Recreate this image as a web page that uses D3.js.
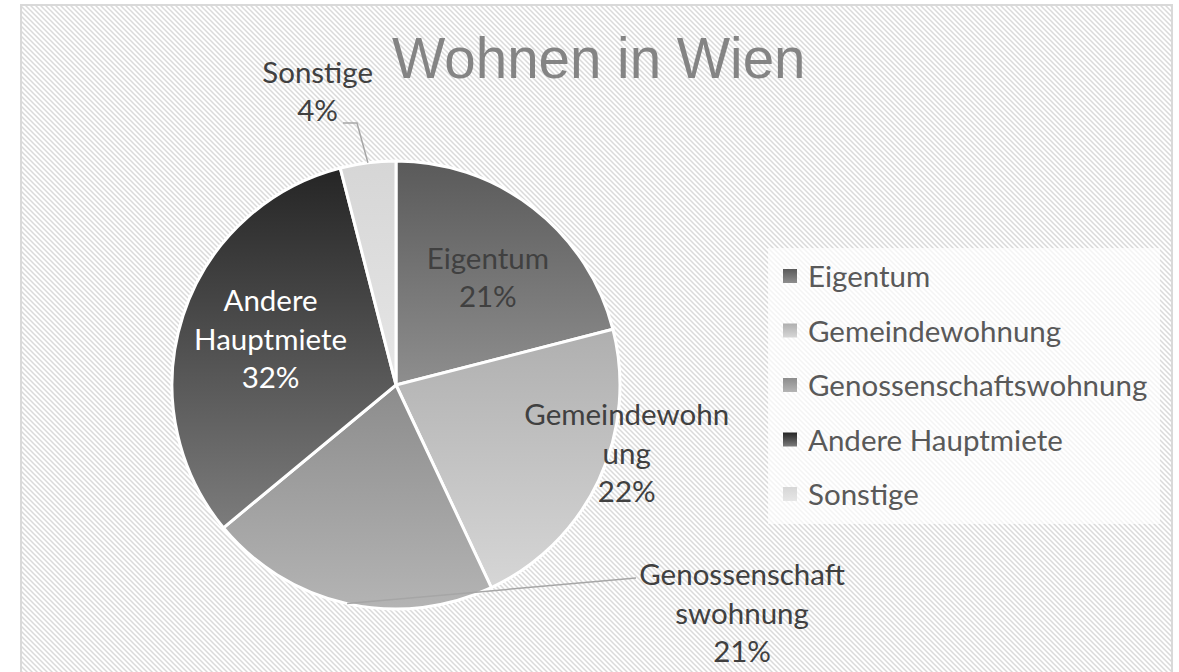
<!DOCTYPE html>
<html lang="de">
<head>
<meta charset="UTF-8">
<title>Wohnen in Wien</title>
<script src="https://d3js.org/d3.v7.min.js"></script>
<style>
    html, body { margin: 0; padding: 0; background: #ffffff; }
    svg { display: block; }
    .lbl { font-family: Lato, "Noto Sans", sans-serif; font-size: 29.5px; }
</style>
</head>
<body>
<div id="chart"></div>
<script>
    // data
    const categories = ["Eigentum", "Gemeindewohnung", "Genossenschaftswohnung", "Andere Hauptmiete", "Sonstige"];
    const shares = [21, 22, 21, 32, 4];
    // how Excel wrapped the data labels
    const labelNames = [["Eigentum"], ["Gemeindewohn", "ung"], ["Genossenschaft", "swohnung"], ["Andere", "Hauptmiete"], ["Sonstige"]];
    // gradient stops (top -> bottom) per slice
    const gradTop = ["#5a5a5a", "#afafaf", "#8c8c8c", "#252525", "#d6d6d6"];
    const gradBottom = ["#8e8e8e", "#d6d6d6", "#b4b4b4", "#7c7c7c", "#e6e6e6"];

    const W = 1179, H = 672;
    const cx = 396, cy = 385, R = 224;

    const svg = d3.select("#chart").append("svg")
        .attr("width", W).attr("height", H);

    const defs = svg.append("defs");

    // diagonal hatch background
    const pat = defs.append("pattern")
        .attr("id", "hatch")
        .attr("patternUnits", "userSpaceOnUse")
        .attr("width", 5).attr("height", 5);
    pat.append("rect").attr("width", 5).attr("height", 5).attr("fill", "#ffffff");
    pat.append("path")
        .attr("d", "M-1,-1L6,6M-1,4L1,6M4,-1L6,1")
        .attr("stroke", "#dadada")
        .attr("stroke-width", 1.5);

    categories.forEach((c, i) => {
        const g = defs.append("linearGradient")
            .attr("id", "grad" + i)
            .attr("x1", 0).attr("y1", 0).attr("x2", 0).attr("y2", 1);
        g.append("stop").attr("offset", "0%").attr("stop-color", gradTop[i]);
        g.append("stop").attr("offset", "100%").attr("stop-color", gradBottom[i]);
    });

    // chart area + frame
    svg.append("rect")
        .attr("x", 21).attr("y", 5)
        .attr("width", 1151).attr("height", 700)
        .attr("fill", "url(#hatch)")
        .attr("stroke", "#d9d9d9")
        .attr("stroke-width", 2);

    // title
    svg.append("text")
        .attr("x", 392).attr("y", 78)
        .style("font-family", "'Liberation Sans', Arial, sans-serif")
        .style("font-size", "56.5px")
        .attr("fill", "#848484")
        .text("Wohnen in Wien");

    const pie = d3.pie().sort(null).value(d => d)(shares);
    const arc = d3.arc().innerRadius(0).outerRadius(R);

    const pieG = svg.append("g").attr("transform", `translate(${cx},${cy})`);

    pieG.selectAll("path.slice")
        .data(pie)
        .join("path")
        .attr("class", "slice")
        .attr("d", arc)
        .attr("fill", (d, i) => `url(#grad${i})`)
        .attr("stroke", "#ffffff")
        .attr("stroke-width", 3)
        .attr("stroke-linejoin", "round");

    // label placement (in radius units, relative to the pie centre) for first line baseline
    const labelSpot = [[0.41, -0.52], [1.03, 0.18], [1.545, 0.895], [-0.56, -0.33], [-0.35, -1.35]];
    const lineH = 38.5;
    const labelFill = ["#404040", "#404040", "#404040", "#ffffff", "#404040"];

    // leader lines for the two outside labels
    const pt = (a, r) => [Math.sin(a) * r, -Math.cos(a) * r];
    const midA = d => (d.startAngle + d.endAngle) / 2;
    const leaders = [
        { i: 2, path: d => { const p = pt(midA(d), R); return [p, [240, 193]]; } },
        { i: 4, path: d => { const p = pt(midA(d), R); return [p, [-39, -262], [-53, -262]]; } }
    ];
    leaders.forEach(L => {
        pieG.append("path")
            .attr("d", d3.line()(L.path(pie[L.i])))
            .attr("fill", "none")
            .attr("stroke", "#a6a6a6")
            .attr("stroke-width", 1.5);
    });

    pie.forEach((d, i) => {
        const lines = labelNames[i].concat([shares[i] + "%"]);
        const t = pieG.append("text")
            .attr("class", "lbl")
            .attr("text-anchor", "middle")
            .attr("fill", labelFill[i]);
        lines.forEach((s, k) => {
            t.append("tspan")
                .attr("x", labelSpot[i][0] * R)
                .attr("y", labelSpot[i][1] * R + k * lineH)
                .text(s);
        });
    });

    // legend
    const legG = svg.append("g");
    legG.append("rect")
        .attr("x", 768).attr("y", 248)
        .attr("width", 392).attr("height", 276)
        .attr("fill", "#ffffff")
        .attr("opacity", 0.7);

    const legY = d3.scalePoint().domain(categories).range([287, 505]);

    const item = legG.selectAll("g.item")
        .data(categories)
        .join("g")
        .attr("class", "item")
        .attr("transform", d => `translate(783,${legY(d)})`);

    item.append("rect")
        .attr("x", 0).attr("y", -18)
        .attr("width", 14).attr("height", 14)
        .attr("fill", (d, i) => `url(#grad${i})`);

    item.append("text")
        .attr("class", "lbl")
        .attr("x", 25).attr("y", 0)
        .attr("fill", "#595959")
        .text(d => d);
</script>
</body>
</html>
